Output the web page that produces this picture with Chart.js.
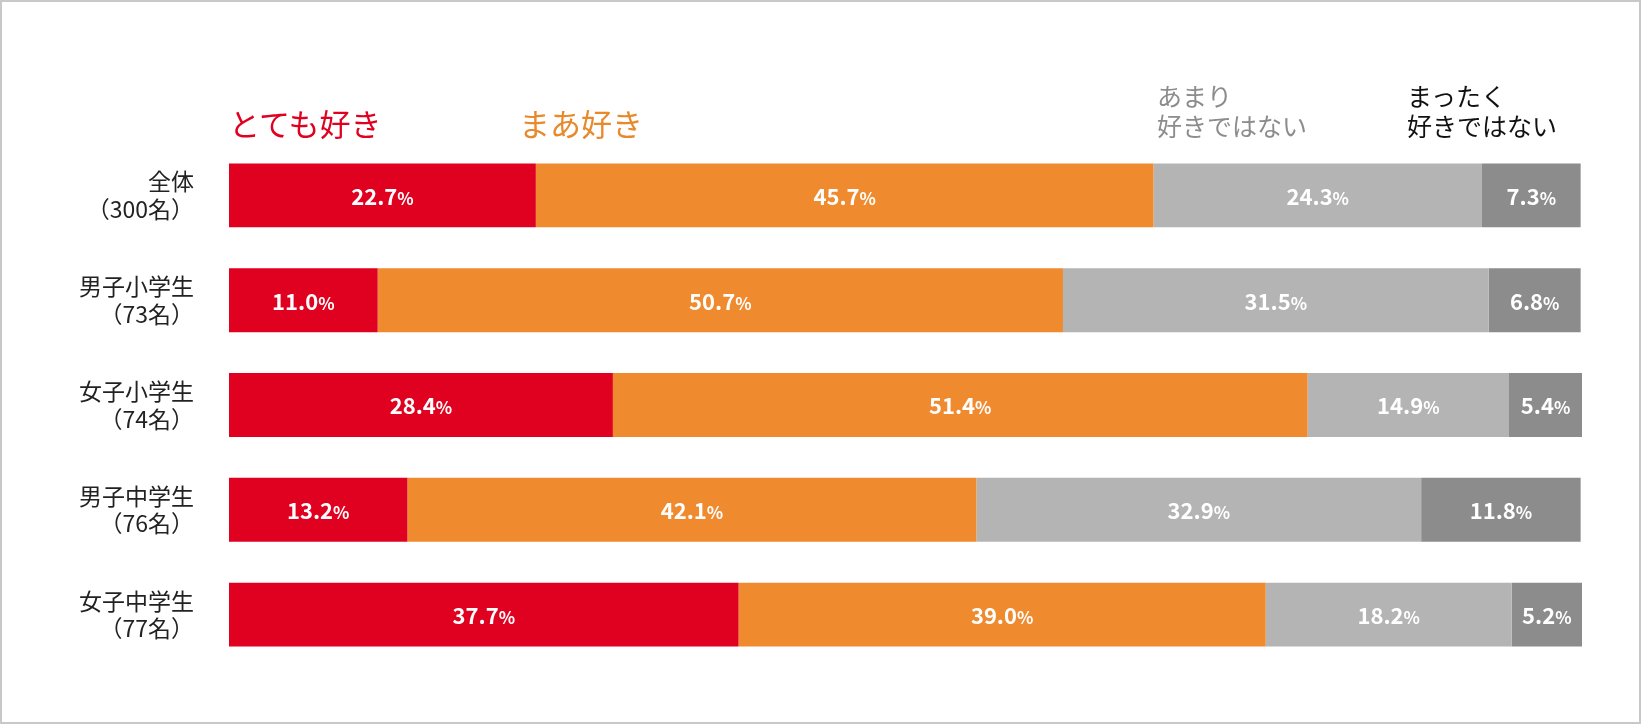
<!DOCTYPE html>
<html><head><meta charset="utf-8">
<script src="https://cdn.jsdelivr.net/npm/chart.js@4"></script>
<style>
html,body{margin:0;padding:0;background:#fff;}
#wrap{position:relative;width:1641px;height:724px;box-sizing:border-box;border:2px solid #c8c8c8;font-family:"Noto Sans CJK JP","Noto Sans",sans-serif;}
canvas{position:absolute;left:0;top:0;}
.lg{position:absolute;line-height:1.2;}
</style></head>
<body>
<div id="wrap">
<canvas id="c" width="1641" height="724"></canvas>
<div class="lg" style="left:227px;top:102px;font-size:31px;color:#e0001f;">とても好き</div>
<div class="lg" style="left:517px;top:102px;font-size:31px;color:#e8892c;">まあ好き</div>
<div class="lg" style="left:1155px;top:78px;font-size:25px;color:#8c8c8c;">あまり<br>好きではない</div>
<div class="lg" style="left:1405px;top:78px;font-size:25px;color:#111;">まったく<br>好きではない</div>
</div>
<script>
// --- DATA ---
const categories = [['全体','（300名）'],['男子小学生','（73名）'],['女子小学生','（74名）'],['男子中学生','（76名）'],['女子中学生','（77名）']];
const seriesNames = ['とても好き','まあ好き','あまり好きではない','まったく好きではない'];
const veryLike = [22.7, 11.0, 28.4, 13.2, 37.7];
const like = [45.7, 50.7, 51.4, 42.1, 39.0];
const notMuch = [24.3, 31.5, 14.9, 32.9, 18.2];
const notAtAll = [7.3, 6.8, 5.4, 11.8, 5.2];
const colors = ['#e0001f','#f08a2e','#b4b4b4','#8c8c8c'];

const font = '"Noto Sans CJK JP","Noto Sans",sans-serif';

// draw the value labels inside each segment
const valueLabels = {
  id: 'valueLabels',
  afterDatasetsDraw(chart) {
    const ctx = chart.ctx;
    chart.data.datasets.forEach((ds, i) => {
      chart.getDatasetMeta(i).data.forEach((bar, j) => {
        const num = ds.data[j].toFixed(1), pct = '%';
        ctx.save();
        ctx.fillStyle = '#fff';
        ctx.textBaseline = 'middle';
        ctx.font = 'bold 22px ' + font;
        const w1 = ctx.measureText(num).width;
        ctx.font = 'bold 17px ' + font;
        const w2 = ctx.measureText(pct).width;
        const x = (bar.x + bar.base) / 2 - (w1 + w2) / 2;
        ctx.textAlign = 'left';
        ctx.font = 'bold 22px ' + font;
        ctx.fillText(num, x, bar.y + 1);
        ctx.font = 'bold 17px ' + font;
        ctx.fillText(pct, x + w1, bar.y + 3);
        ctx.restore();
      });
    });
  }
};

new Chart(document.getElementById('c'), {
  type: 'bar',
  data: {
    labels: categories,
    datasets: [veryLike, like, notMuch, notAtAll].map((d, i) => ({
      label: seriesNames[i], data: d, backgroundColor: colors[i],
      categoryPercentage: 0.61, barPercentage: 1, borderWidth: 0
    }))
  },
  options: {
    indexAxis: 'y',
    responsive: false,
    animation: false,
    layout: { padding: { top: 141, bottom: 59, right: 61, left: 0 } },
    plugins: { legend: { display: false }, tooltip: { enabled: false } },
    scales: {
      x: { stacked: true, min: 0, max: 100.1, display: false },
      y: {
        stacked: true,
        grid: { display: false }, border: { display: false },
        afterFit(s) { s.width = 227; },
        ticks: { color: '#222', padding: 27, font: { family: font, size: 23 } }
      }
    }
  },
  plugins: [valueLabels]
});
</script>
</body></html>
